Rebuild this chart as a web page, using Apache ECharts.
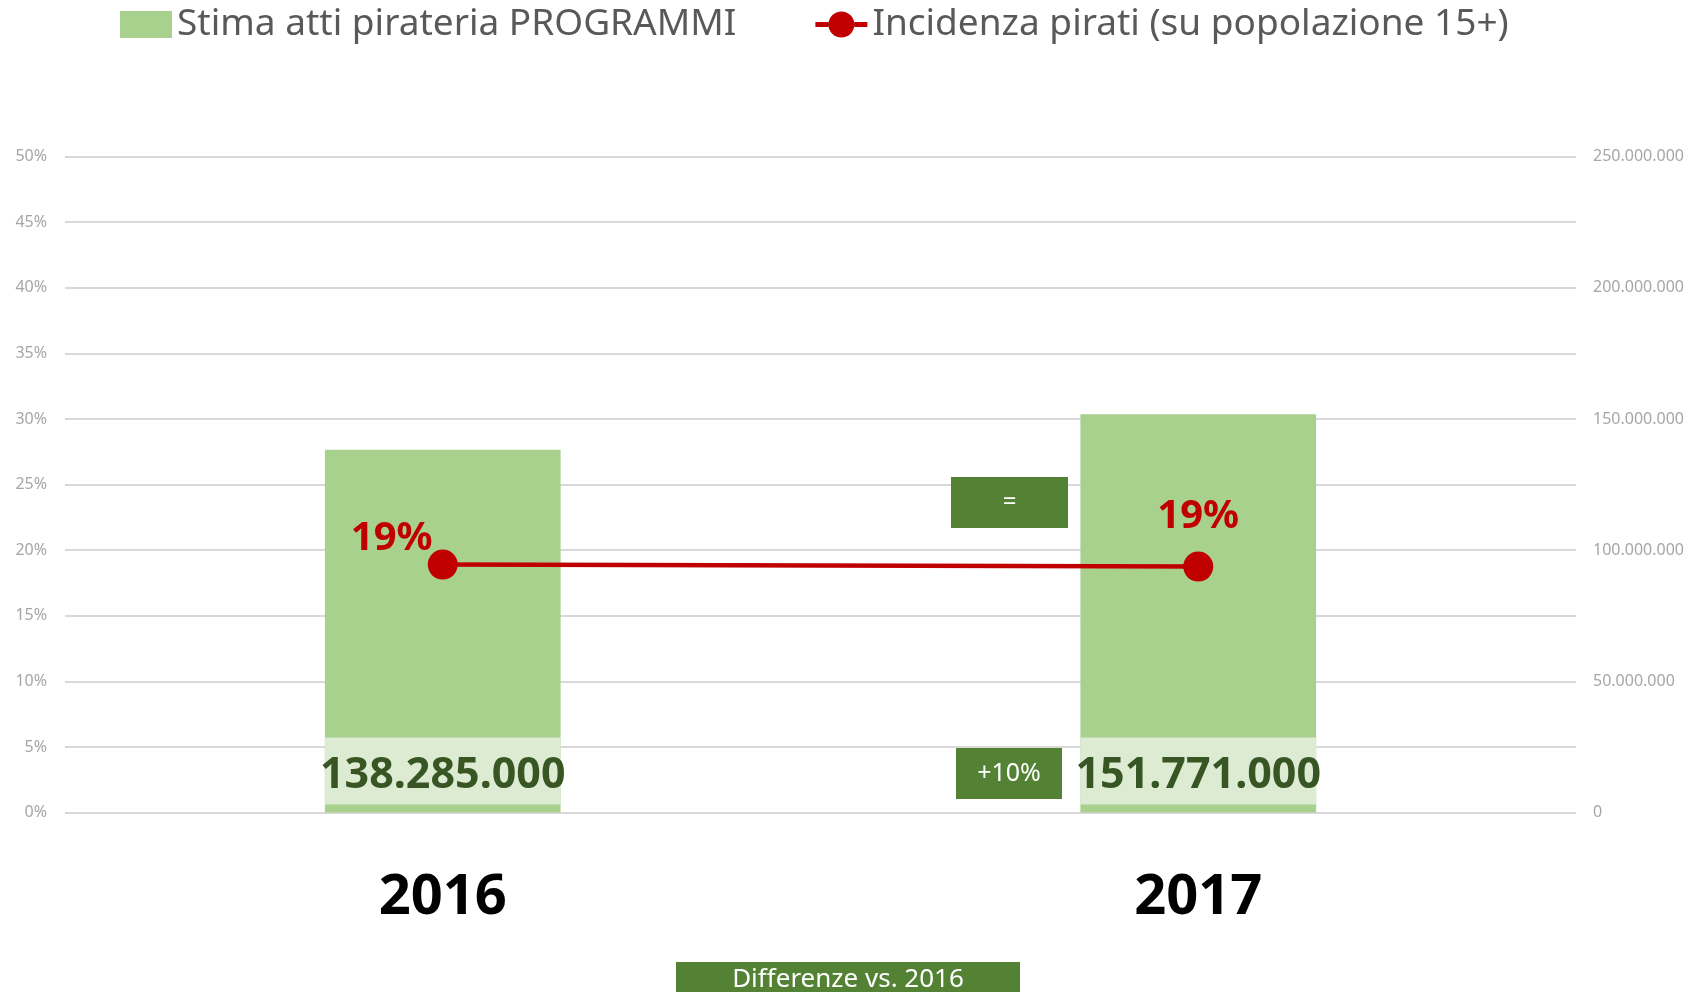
<!DOCTYPE html>
<html>
<head>
<meta charset="utf-8">
<script src="https://cdn.jsdelivr.net/npm/echarts@6/dist/echarts.min.js"></script>
<style>
html,body{margin:0;padding:0;background:#fff;}
#chart{width:1692px;height:992px;}
</style>
</head>
<body>
<div id="chart"></div>
<script>
// ---- Data ----
var categories = ['2016', '2017'];
var barName = 'Stima atti pirateria PROGRAMMI';
var barValues = [138285000, 151771000];
var lineName = 'Incidenza pirati (su popolazione 15+)';
var lineValues = [0.189, 0.1875];
var leftTicks = { min: 0, max: 0.5, interval: 0.05 };
var rightTicks = { min: 0, max: 250000000, interval: 50000000 };
var diffLabels = ['=', '+10%'];
var diffTitle = 'Differenze vs. 2016';

function dots(v) { return String(Math.round(v)).replace(/\B(?=(\d{3})+(?!\d))/g, '.'); }

var FONT = '"Noto Sans", sans-serif';
var lineLabelOffsets = [[-51, 9], [0, -15]];
var lineLegendIcon = 'path://M0,11 L13,11 L13,16 L0,16 Z M39,11 L52,11 L52,16 L39,16 Z M39,13.5 A13,13 0 1,1 13,13.5 A13,13 0 1,1 39,13.5 Z';

var chart = echarts.init(document.getElementById('chart'), null, { renderer: 'canvas' });
var option = {
  backgroundColor: '#ffffff',
  animation: false,
  textStyle: { fontFamily: FONT },
  legend: {
    data: [
      { name: barName, icon: 'rect' },
      { name: lineName, icon: lineLegendIcon }
    ],
    left: 115, top: 1,
    itemWidth: 52, itemHeight: 27, itemGap: 79,
    textStyle: { fontSize: 37, color: '#595959', fontFamily: FONT }
  },
  grid: { left: 65, right: 116, top: 156.5, bottom: 179.4, containLabel: false },
  xAxis: {
    type: 'category', data: categories,
    axisLine: { show: false }, axisTick: { show: false },
    axisLabel: { fontSize: 56, fontWeight: 'bold', color: '#000000', margin: 57, fontFamily: FONT }
  },
  yAxis: [
    {
      type: 'value', min: leftTicks.min, max: leftTicks.max, interval: leftTicks.interval,
      axisLine: { show: false }, axisTick: { show: false },
      axisLabel: { fontSize: 16, color: '#A6A6A6', margin: 18, formatter: function (v) { return Math.round(v * 100) + '%'; } },
      splitLine: { show: true, lineStyle: { color: '#D9D9D9', width: 2 } }
    },
    {
      type: 'value', min: rightTicks.min, max: rightTicks.max, interval: rightTicks.interval,
      position: 'right',
      axisLine: { show: false }, axisTick: { show: false },
      axisLabel: { fontSize: 16, color: '#A6A6A6', margin: 17, formatter: function (v) { return dots(v); } },
      splitLine: { show: false }
    }
  ],
  series: [
    {
      name: barName, type: 'bar', yAxisIndex: 1, data: barValues,
      barWidth: '31.2%',
      itemStyle: { color: '#A9D18E' },
      label: {
        show: true, position: 'insideBottom', distance: 8,
        formatter: function (p) { return dots(p.value); },
        fontSize: 43, fontWeight: 'bold', color: '#375623',
        backgroundColor: '#DDEBD3', width: 236, align: 'center',
        lineHeight: 49, padding: [14, 0, 4, 0]
      },
      z: 2
    },
    {
      name: lineName, type: 'line', yAxisIndex: 0,
      data: lineValues.map(function (v, i) {
        return { value: v, label: { offset: lineLabelOffsets[i] } };
      }),
      lineStyle: { color: '#C00000', width: 4.5 },
      itemStyle: { color: '#C00000' },
      symbol: 'circle', symbolSize: 30,
      label: {
        show: true, position: 'top', distance: 0,
        formatter: function (p) { return Math.round(p.value * 100) + '%'; },
        fontSize: 40, fontWeight: 'bold', color: '#C00000'
      },
      z: 5
    }
  ],
  graphic: [
    { type: 'rect', shape: { x: 951, y: 477, width: 117, height: 51 }, style: { fill: '#548235' }, z: 10 },
    { type: 'text', x: 1009.5, y: 502.5, style: { text: diffLabels[0], fill: '#ffffff', font: '24px "Noto Sans", sans-serif', align: 'center', verticalAlign: 'middle' }, z: 11 },
    { type: 'rect', shape: { x: 956, y: 748, width: 106, height: 51 }, style: { fill: '#548235' }, z: 10 },
    { type: 'text', x: 1009, y: 773.5, style: { text: diffLabels[1], fill: '#ffffff', font: '25px "Noto Sans", sans-serif', align: 'center', verticalAlign: 'middle' }, z: 11 },
    { type: 'rect', shape: { x: 676, y: 962, width: 344, height: 40 }, style: { fill: '#548235' }, z: 10 },
    { type: 'text', x: 848, y: 980, style: { text: diffTitle, fill: '#ffffff', font: '26px "Noto Sans", sans-serif', align: 'center', verticalAlign: 'middle' }, z: 11 }
  ]
};
chart.setOption(option);
</script>
</body>
</html>
